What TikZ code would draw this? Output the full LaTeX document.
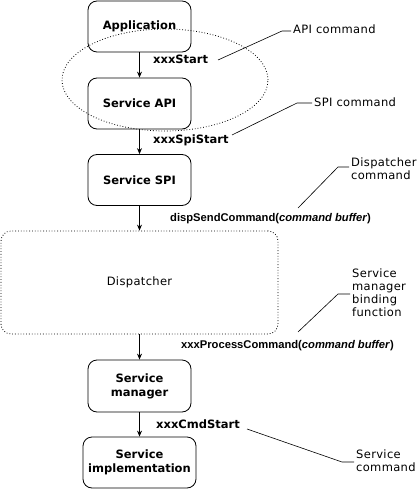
\documentclass[tikz,border=0pt]{standalone}
\usepackage{fontspec}
\setmainfont{DejaVu Sans}
\newfontfamily\argfont{Liberation Sans}
\newfontfamily\notefont[LetterSpace=3]{DejaVu Sans}
\usetikzlibrary{arrows.meta}
\begin{document}
\begin{tikzpicture}[x=1pt,y=-1pt,
  box/.style={draw, line width=0.8pt, rounded corners=9pt, align=center, inner sep=0pt,
    minimum width=103pt, minimum height=51pt, font=\bfseries\fontsize{11.5}{14}\selectfont},
  lbl/.style={anchor=west, inner sep=0pt, font=\bfseries\fontsize{11.5}{14}\selectfont},
  note/.style={anchor=west, inner sep=0pt, align=left, font=\notefont\fontsize{11.5}{13}\selectfont},
  arg/.style={anchor=west, inner sep=0pt, font=\argfont\bfseries\fontsize{11.2}{13}\selectfont},
  flow/.style={-{Stealth[length=6pt,width=5pt]}, line width=0.8pt},
  lead/.style={line width=0.6pt}]
\useasboundingbox (0,0) rectangle (418,489);

\node[box] (app) at (139.5,26.5) {Application};
\node[box] (api) at (139.5,103.5) {Service API};
\node[box] (spi) at (139.5,180) {Service SPI};
\node[draw, dotted, line width=0.8pt, rounded corners=10pt, minimum width=277pt, minimum height=103pt,
  inner sep=0pt, font=\notefont\fontsize{11.5}{14}\selectfont] (disp) at (139.5,282.5) {Dispatcher};
\node[box, minimum height=52pt] (mgr) at (139.5,386) {Service\\manager};
\node[box, minimum width=113pt] (impl) at (139.5,462.5) {Service\\implementation};

\draw[dotted, line width=0.8pt] (165,80) ellipse [x radius=103pt, y radius=51pt];

\draw[flow] (app) -- (api);
\draw[flow] (api) -- (spi);
\draw[flow] (spi) -- (disp);
\draw[flow] (disp) -- (mgr);
\draw[flow] (mgr) -- (impl);

\node[lbl] (xs) at (153,59) {xxxStart};
\node[lbl] (xss) at (153,140) {xxxSpiStart};
\node[arg] (dsc) at (170,219) {dispSendCommand(\textit{command buffer})};
\node[arg] (xpc) at (181,346) {xxxProcessCommand(\textit{command buffer})};
\node[lbl] (xcs) at (156,424) {xxxCmdStart};

\node[note] (apic) at (293,29) {API command};
\node[note] (spic) at (314,102) {SPI command};
\node[note] (dispc) at (351,168.5) {Dispatcher\\command};
\node[note] (bind) at (352,292.5) {Service\\manager\\binding\\function};
\node[note] (svc) at (356,461) {Service\\command};

\coordinate (a1) at (218,60);  \coordinate (a2) at (282,31);  \coordinate (a3) at (291,31);
\coordinate (b1) at (232,135); \coordinate (b2) at (297,103); \coordinate (b3) at (312,103);
\coordinate (c1) at (298,208); \coordinate (c2) at (338,167); \coordinate (c3) at (349,167);
\coordinate (d1) at (298,332); \coordinate (d2) at (338,294); \coordinate (d3) at (350,294);
\coordinate (e1) at (247,429); \coordinate (e2) at (342,462); \coordinate (e3) at (354,462);
\draw[lead] (a1) -- (a2) -- (a3);
\draw[lead] (b1) -- (b2) -- (b3);
\draw[lead] (c1) -- (c2) -- (c3);
\draw[lead] (d1) -- (d2) -- (d3);
\draw[lead] (e1) -- (e2) -- (e3);
\end{tikzpicture}
\end{document}
